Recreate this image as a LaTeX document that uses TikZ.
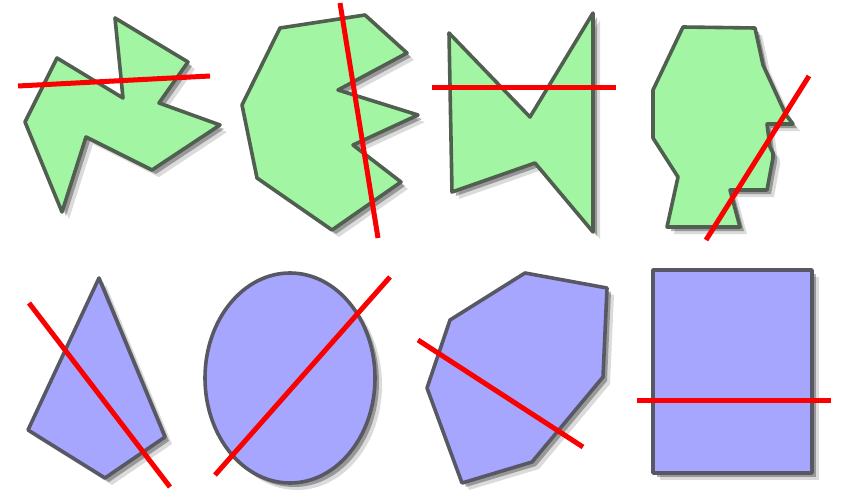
\documentclass[tikz,border=0pt]{standalone}
\begin{document}
\begin{tikzpicture}[x=1pt,y=-1pt,
  greenpoly/.style={fill={rgb,255:red,162;green,245;blue,162}, draw={rgb,255:red,80;green,95;blue,80}, line width=3.6pt, line join=round},
  bluepoly/.style={fill={rgb,255:red,166;green,166;blue,255}, draw={rgb,255:red,88;green,88;blue,100}, line width=3.6pt, line join=round},
  shadowA/.style={fill=black, opacity=0.30, shift={(4,4)}},
  shadowB/.style={fill=black, opacity=0.14, shift={(7,7)}},
  cutline/.style={draw={rgb,255:red,250;green,0;blue,0}, line width=5pt}]
\useasboundingbox (0,0) rectangle (843,495);
\fill[white] (0,0) rectangle (843,495);
% shape 1
\def\shA{(115,18) -- (188,62) -- (159,103) -- (220,125) -- (152,170) -- (86,137) -- (62,212) -- (25,122) -- (57,58) -- (123,98) -- cycle}
\fill[shadowB] \shA; \fill[shadowA] \shA;
\path[greenpoly] \shA;
\coordinate (a1) at (18,86); \coordinate (a2) at (210,76);
\draw[cutline] (a1) -- (a2);
% shape 2
\def\shB{(280,28) -- (365,15) -- (407,53) -- (338,90) -- (418,115) -- (353,145) -- (401,182) -- (332,230) -- (257,178) -- (242,105) -- cycle}
\fill[shadowB] \shB; \fill[shadowA] \shB;
\path[greenpoly] \shB;
\coordinate (b1) at (340,3); \coordinate (b2) at (378,238);
\draw[cutline] (b1) -- (b2);
% shape 3
\def\shC{(449,33) -- (530,117) -- (593,13) -- (593,232) -- (535,163) -- (452,192) -- cycle}
\fill[shadowB] \shC; \fill[shadowA] \shC;
\path[greenpoly] \shC;
\coordinate (c1) at (432,87); \coordinate (c2) at (616,87);
\draw[cutline] (c1) -- (c2);
% shape 4
\def\shD{(683,27) -- (755,28) -- (763,65) -- (786,115) -- (793,124) -- (767,124) -- (770,147) -- (773,153) -- (773,158) -- (767,190) -- (730,190) -- (740,227) -- (667,227) -- (678,177) -- (653,138) -- (653,90) -- cycle}
\fill[shadowB] \shD; \fill[shadowA] \shD;
\path[greenpoly] \shD;
\coordinate (d1) at (809,76); \coordinate (d2) at (706,240);
\draw[cutline] (d1) -- (d2);
% shape 5
\def\shE{(99,278) -- (165,437) -- (105,478) -- (28,430) -- cycle}
\fill[shadowB] \shE; \fill[shadowA] \shE;
\path[bluepoly] \shE;
\coordinate (e1) at (29,303); \coordinate (e2) at (170,487);
\draw[cutline] (e1) -- (e2);
% shape 6
\def\shF{(290,378) ellipse [x radius=85, y radius=105]}
\fill[shadowB] \shF; \fill[shadowA] \shF;
\path[bluepoly] \shF;
\coordinate (f1) at (215,475); \coordinate (f2) at (390,277);
\draw[cutline] (f1) -- (f2);
% shape 7
\def\shG{(525,273) -- (607,288) -- (603,377) -- (532,462) -- (462,483) -- (427,388) -- (450,320) -- cycle}
\fill[shadowB] \shG; \fill[shadowA] \shG;
\path[bluepoly] \shG;
\coordinate (g1) at (418,340); \coordinate (g2) at (583,447);
\draw[cutline] (g1) -- (g2);
% shape 8
\def\shH{(653,270) rectangle (812,473)}
\fill[shadowB] \shH; \fill[shadowA] \shH;
\path[bluepoly] \shH;
\coordinate (h1) at (637,400); \coordinate (h2) at (831,400);
\draw[cutline] (h1) -- (h2);
\end{tikzpicture}
\end{document}
